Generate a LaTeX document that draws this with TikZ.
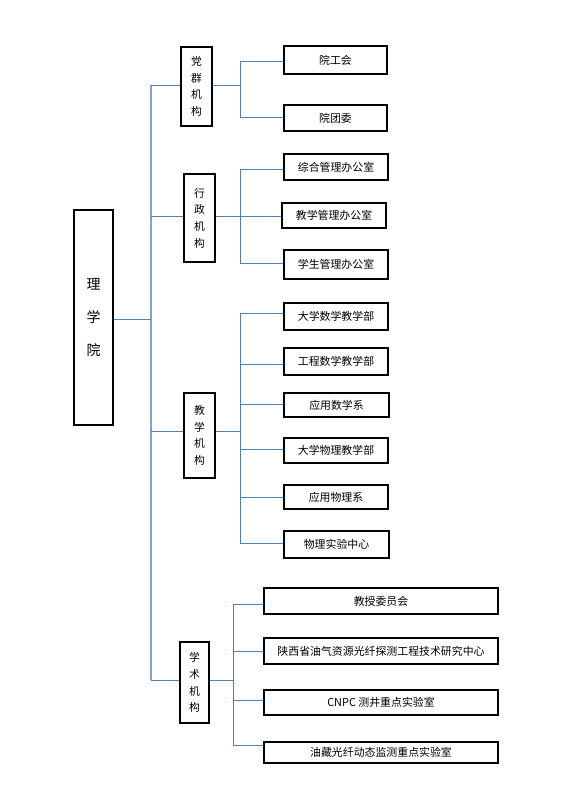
\documentclass[tikz,border=0pt]{standalone}
\usepackage{fontspec}
\newfontfamily\cjk{Noto Sans CJK SC}
\definecolor{lineblue}{HTML}{4F81BD}
\definecolor{trunkblue}{HTML}{7FA3D3}
\begin{document}
\begin{tikzpicture}[x=1pt,y=-1pt,
  box/.style={draw=black,line width=2pt,inner sep=0pt,fill=white},
  vbox/.style={box,align=center,font=\cjk\fontsize{10.8}{16.7}\selectfont},
  hbox/.style={box,font=\cjk\fontsize{10.9}{12}\selectfont},
  conn/.style={draw=lineblue,line width=0.9pt},
  trunk/.style={draw=trunkblue,line width=1.5pt}]
\useasboundingbox (0,0) rectangle (561,788);
% root
\node[box,align=center,font=\cjk\fontsize{14}{33}\selectfont,minimum width=39,minimum height=215] (root) at (93.5,317.5) {理\\学\\院};
% level 1
\node[vbox,minimum width=31,minimum height=79] (dq) at (196.5,86.5) {党\\群\\机\\构};
\node[vbox,minimum width=31,minimum height=88] (xz) at (199.5,218) {行\\政\\机\\构};
\node[vbox,minimum width=31,minimum height=85] (jx) at (199.5,435.5) {教\\学\\机\\构};
\node[vbox,minimum width=29,minimum height=81] (xs) at (194.5,682.5) {学\\术\\机\\构};
% level 2: dq
\node[hbox,minimum width=103,minimum height=28] (a1) at (335.5,60) {院工会};
\node[hbox,minimum width=103,minimum height=26] (a2) at (335.5,118) {院团委};
% xz
\node[hbox,minimum width=104,minimum height=26] (b1) at (336,167) {综合管理办公室};
\node[hbox,minimum width=104,minimum height=25] (b2) at (334,215.5) {教学管理办公室};
\node[hbox,minimum width=104,minimum height=29] (b3) at (336,264.5) {学生管理办公室};
% jx
\node[hbox,minimum width=104,minimum height=27] (c1) at (336,316.5) {大学数学教学部};
\node[hbox,minimum width=104,minimum height=27] (c2) at (336,361.5) {工程数学教学部};
\node[hbox,minimum width=105,minimum height=24] (c3) at (336.5,405) {应用数学系};
\node[hbox,minimum width=104,minimum height=25] (c4) at (336,450.5) {大学物理教学部};
\node[hbox,minimum width=104,minimum height=24] (c5) at (336,497) {应用物理系};
\node[hbox,minimum width=105,minimum height=27] (c6) at (336.5,544.5) {物理实验中心};
% xs
\node[hbox,minimum width=234,minimum height=26] (d1) at (381,601) {教授委员会};
\node[hbox,minimum width=234,minimum height=26] (d2) at (381,651) {陕西省油气资源光纤探测工程技术研究中心};
\node[hbox,minimum width=234,minimum height=25] (d3) at (381,702.5) {CNPC 测井重点实验室};
\node[hbox,minimum width=234,minimum height=21] (d4) at (381,752.5) {油藏光纤动态监测重点实验室};
% trunk junctions
\coordinate (t1) at (151,85);
\coordinate (t2) at (151,216.7);
\coordinate (t0) at (151,319);
\coordinate (t3) at (151,431);
\coordinate (t4) at (151,680);
\draw[trunk] (t1) -- (t4);
\draw[conn] (root.east |- t0) -- (t0);
\draw[conn] (t1) -- (t1 -| dq.west);
\draw[conn] (t2) -- (t2 -| xz.west);
\draw[conn] (t3) -- (t3 -| jx.west);
\draw[conn] (t4) -- (t4 -| xs.west);
% group 1
\coordinate (ga) at (240,85);
\coordinate (sa1) at (240,61.7);
\coordinate (sa2) at (240,117);
\draw[conn] (dq.east |- ga) -- (ga);
\draw[conn] (sa1) -- (sa2);
\foreach \s/\n in {sa1/a1,sa2/a2}{\draw[conn] (\s) -- (\s -| \n.west);}
% group 2
\coordinate (gb) at (240,216.7);
\coordinate (sb1) at (240,169);
\coordinate (sb2) at (240,216.7);
\coordinate (sb3) at (240,263);
\draw[conn] (xz.east |- gb) -- (gb);
\draw[conn] (sb1) -- (sb3);
\foreach \s/\n in {sb1/b1,sb2/b2,sb3/b3}{\draw[conn] (\s) -- (\s -| \n.west);}
% group 3
\coordinate (gc) at (240,431);
\coordinate (sc1) at (240,313.3);
\coordinate (sc2) at (240,364.3);
\coordinate (sc3) at (240,404.3);
\coordinate (sc4) at (240,449.3);
\coordinate (sc5) at (240,497.3);
\coordinate (sc6) at (240,543.3);
\draw[conn] (jx.east |- gc) -- (gc);
\draw[conn] (sc1) -- (sc6);
\foreach \s/\n in {sc1/c1,sc2/c2,sc3/c3,sc4/c4,sc5/c5,sc6/c6}{\draw[conn] (\s) -- (\s -| \n.west);}
% group 4
\coordinate (gd) at (233,680);
\coordinate (sd1) at (233,604);
\coordinate (sd2) at (233,651);
\coordinate (sd3) at (233,700);
\coordinate (sd4) at (233,745);
\draw[conn] (xs.east |- gd) -- (gd);
\draw[conn] (sd1) -- (sd4);
\foreach \s/\n in {sd1/d1,sd2/d2,sd3/d3,sd4/d4}{\draw[conn] (\s) -- (\s -| \n.west);}
\end{tikzpicture}
\end{document}
